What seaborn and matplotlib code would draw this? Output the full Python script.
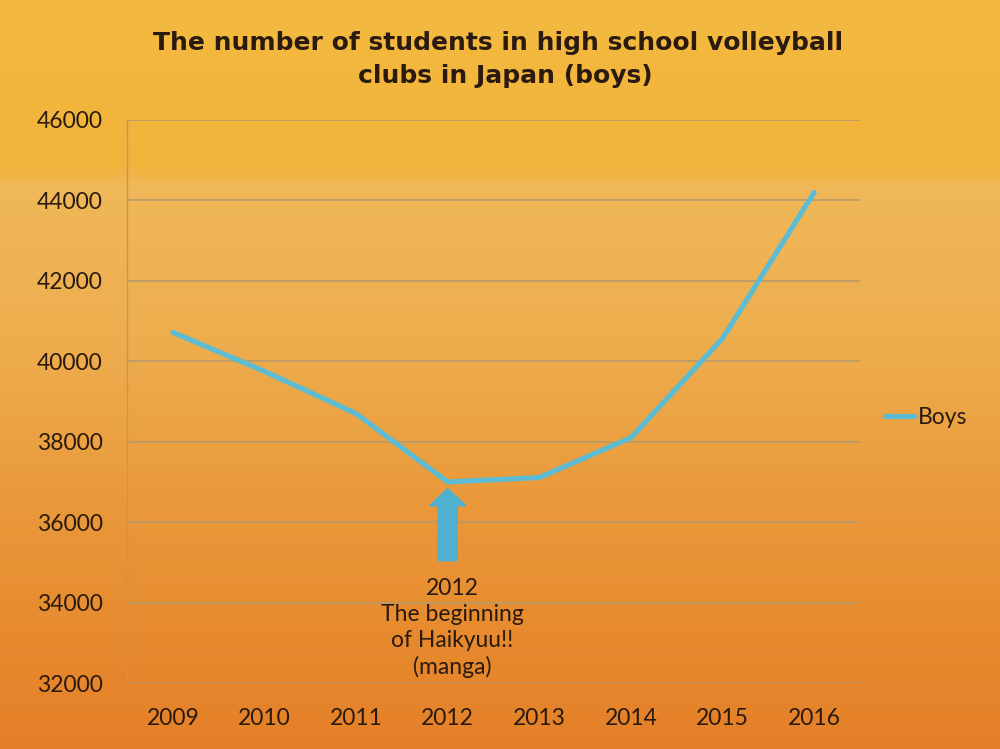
import numpy as np
import pandas as pd
import matplotlib
matplotlib.use("Agg")
import matplotlib.pyplot as plt
import seaborn as sns

# data
years = ["2009", "2010", "2011", "2012", "2013", "2014", "2015", "2016"]
boys = [40720, 39750, 38700, 37000, 37110, 38100, 40570, 44200]
y_ticks = [32000, 34000, 36000, 38000, 40000, 42000, 44000, 46000]
title_1 = "The number of students in high school volleyball"
title_2 = "clubs in Japan (boys)"
note = "2012\nThe beginning\nof Haikyuu!!\n(manga)"

line_c = "#5BBCD3"
arrow_c = "#4FB0D0"
grid_c = "#B79A6A"
text_c = "#2A1A10"

sns.set_theme(style="white")
plt.rcParams["font.family"] = ["Lato", "DejaVu Sans"]

fig = plt.figure(figsize=(10, 7.49), dpi=100)

# orange slide background, vertical gradient
stops = [0.0, 0.22, 0.25, 0.45, 0.65, 0.85, 1.0]
cols = np.array([
    [244, 186, 64],
    [242, 179, 58],
    [240, 184, 88],
    [238, 174, 78],
    [234, 155, 60],
    [231, 138, 46],
    [229, 128, 40],
]) / 255.0
yy = np.linspace(0, 1, 749)
grad = np.stack([np.interp(yy, stops, cols[:, k]) for k in range(3)], axis=-1)
grad = np.repeat(grad[:, None, :], 2, axis=1)
bg = fig.add_axes([0, 0, 1, 1], zorder=0)
bg.imshow(grad, aspect="auto", extent=[0, 1, 0, 1], origin="upper")
bg.axis("off")

ax = fig.add_axes([0.127, 0.0881, 0.733, 0.7517], zorder=1)
ax.patch.set_alpha(0)

df = pd.DataFrame({"year": years, "students": boys})
sns.lineplot(data=df, x="year", y="students", ax=ax, color=line_c,
             linewidth=3.7, label="Boys", sort=False, zorder=4)

ax.set_xlim(-0.5, 7.5)
ax.set_ylim(y_ticks[0], y_ticks[-1])
ax.set_yticks(y_ticks)
ax.yaxis.grid(True, color=grid_c, linewidth=1.2)
ax.set_axisbelow(True)
for s in ["top", "right", "bottom"]:
    ax.spines[s].set_visible(False)
ax.spines["left"].set_color(grid_c)
ax.spines["left"].set_linewidth(1.0)
ax.set_xlabel("")
ax.set_ylabel("")
ax.tick_params(axis="y", length=6.5, color=grid_c, width=1.0, pad=11,
               labelsize=16.5, labelcolor=text_c)
ax.tick_params(axis="x", which="major", length=0, pad=18,
               labelsize=16.5, labelcolor=text_c)
ax.set_xticks(np.arange(-0.5, 8, 1), minor=True)
ax.tick_params(axis="x", which="minor", length=5, color=grid_c, width=1.0)

# arrow pointing at the 2012 low
ax.arrow(3, 35040, 0, 1790, width=0.21, head_width=0.40, head_length=420,
         length_includes_head=True, color=arrow_c, zorder=3)
ax.text(3.05, 33370, note, ha="center", va="center", fontsize=16.5,
        color=text_c, linespacing=1.3)

leg = ax.legend(loc="center left", bbox_to_anchor=(0.864, 0.442),
                bbox_transform=fig.transFigure, frameon=False,
                handlelength=1.3, handletextpad=0.15, fontsize=16.5)
for t in leg.get_texts():
    t.set_color(text_c)

fig.text(0.498, 0.9426, title_1, ha="center", va="center", fontsize=18,
         fontweight="bold", color=text_c, family=["DejaVu Sans"])
fig.text(0.505, 0.8985, title_2, ha="center", va="center", fontsize=18,
         fontweight="bold", color=text_c, family=["DejaVu Sans"])

fig.savefig("out.png", dpi=100)
